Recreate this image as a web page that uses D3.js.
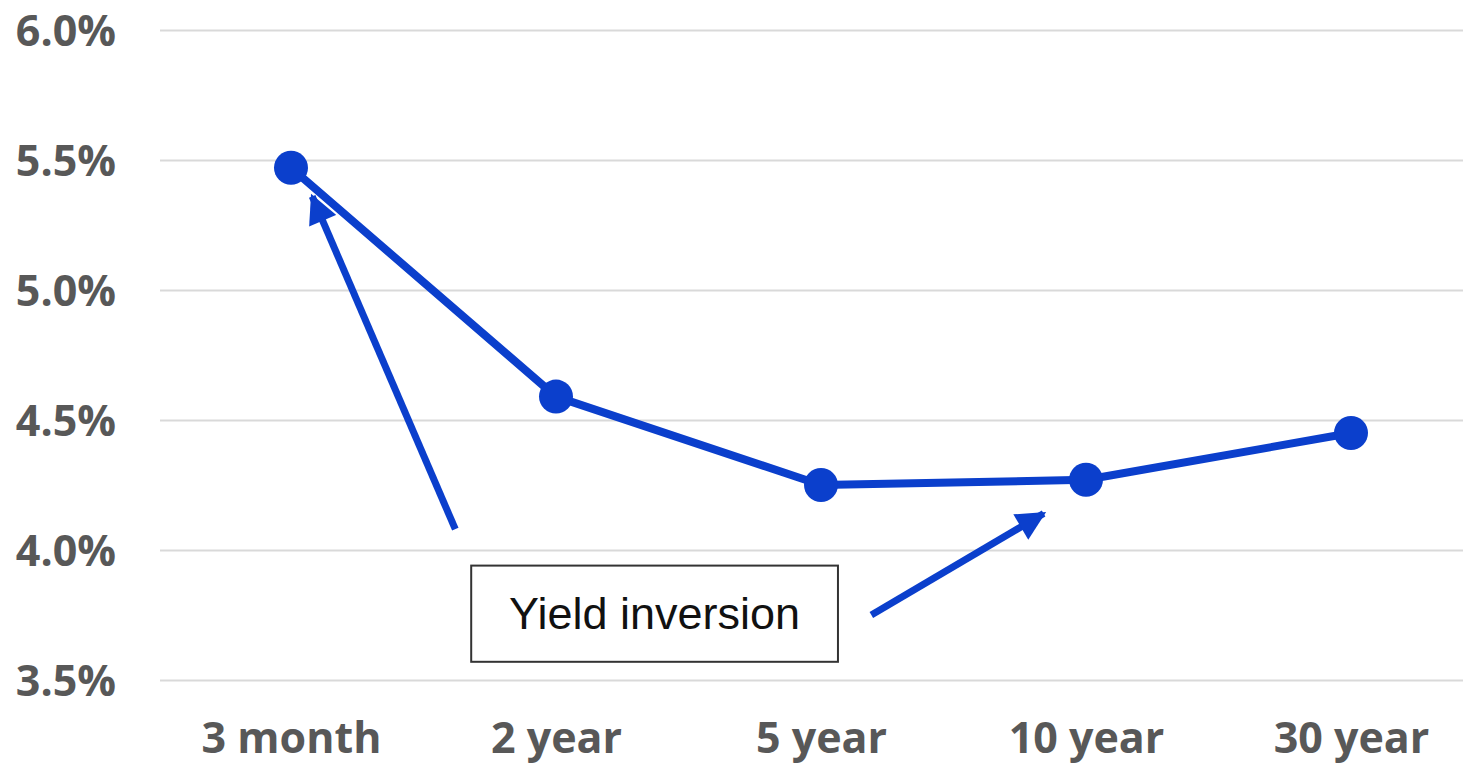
<!DOCTYPE html>
<html>
<head>
<meta charset="utf-8">
<script src="https://cdn.jsdelivr.net/npm/d3@7"></script>
<style>
  html, body { margin: 0; padding: 0; background: #fff; }
  svg { display: block; }
</style>
</head>
<body>
<svg id="chart" width="1463" height="767"></svg>
<script>
// ---- data ----
const categories = ["3 month", "2 year", "5 year", "10 year", "30 year"];
const yields = [5.47, 4.59, 4.25, 4.27, 4.45];
const yTicks = [3.5, 4.0, 4.5, 5.0, 5.5, 6.0];
const annotationText = "Yield inversion";
// annotation arrows in data space: [categoryIndex (fractional), yield]
const arrowTails = [[0.62, 4.08], [2.19, 3.75]];
const arrowTips  = [[0.08, 5.36], [2.84, 4.14]];
const boxCorners = [[0.68, 3.94], [2.064, 3.57]];

// ---- layout ----
const W = 1463, H = 767;
const blue = "#0b3fcc";
const svg = d3.select("#chart");

const x = d3.scalePoint().domain(categories).range([158.5, 1483.5]).padding(0.5);
const xi = d3.scaleLinear().domain([0, categories.length - 1])
  .range([x(categories[0]), x(categories[categories.length - 1])]);
const y = d3.scaleLinear().domain([3.5, 6.0]).range([680, 30]);

// gridlines + y labels
const yAxis = d3.axisLeft(y).tickValues(yTicks).tickFormat(d3.format(".1f"))
  .tickSize(-(W - 160)).tickPadding(44);
const gy = svg.append("g").attr("transform", "translate(160,0)").call(yAxis);
gy.select(".domain").remove();
gy.selectAll(".tick line").attr("stroke", "#d9d9d9").attr("stroke-width", 2);
gy.selectAll(".tick text")
  .text(d => d3.format(".1f")(d) + "%")
  .attr("fill", "#585858")
  .attr("font-family", "'Open Sans', sans-serif")
  .attr("font-weight", 700)
  .attr("font-size", 43)
  .attr("dy", "0.35em");

// x labels
const xAxis = d3.axisBottom(x).tickSize(0).tickPadding(0);
const gx = svg.append("g").attr("transform", "translate(0,680)").call(xAxis);
gx.select(".domain").remove();
gx.selectAll(".tick text")
  .attr("fill", "#585858")
  .attr("font-family", "'Open Sans', sans-serif")
  .attr("font-weight", 700)
  .attr("font-size", 43)
  .attr("y", 73)
  .attr("dy", 0);

// line
const line = d3.line().x((d, i) => x(categories[i])).y(d => y(d));
svg.append("path").datum(yields)
  .attr("d", line).attr("fill", "none")
  .attr("stroke", blue).attr("stroke-width", 8).attr("stroke-linejoin", "round");

svg.selectAll("circle.pt").data(yields).join("circle")
  .attr("class", "pt")
  .attr("cx", (d, i) => x(categories[i]))
  .attr("cy", d => y(d))
  .attr("r", 17)
  .attr("fill", blue);

// annotation box
const bx0 = xi(boxCorners[0][0]), by0 = y(boxCorners[0][1]);
const bx1 = xi(boxCorners[1][0]), by1 = y(boxCorners[1][1]);
svg.append("rect")
  .attr("x", bx0).attr("y", by0)
  .attr("width", bx1 - bx0).attr("height", by1 - by0)
  .attr("fill", "#fff").attr("stroke", "#333").attr("stroke-width", 2);
svg.append("text")
  .attr("x", (bx0 + bx1) / 2).attr("y", (by0 + by1) / 2)
  .attr("dy", "0.35em")
  .attr("text-anchor", "middle")
  .attr("font-family", "'Liberation Sans', Arial, sans-serif")
  .attr("font-size", 45)
  .attr("fill", "#111")
  .text(annotationText);

// arrows
const defs = svg.append("defs");
defs.append("marker")
  .attr("id", "arrowhead")
  .attr("viewBox", "0 0 10 10")
  .attr("refX", 9).attr("refY", 5)
  .attr("markerWidth", 4.6).attr("markerHeight", 4.2)
  .attr("markerUnits", "strokeWidth")
  .attr("orient", "auto")
  .append("path").attr("d", "M0,0 L10,5 L0,10 Z").attr("fill", blue);

arrowTails.forEach((t, k) => {
  const tip = arrowTips[k];
  const x1 = xi(t[0]), y1 = y(t[1]);
  const x2 = xi(tip[0]), y2 = y(tip[1]);
  svg.append("line")
    .attr("x1", x1).attr("y1", y1).attr("x2", x2).attr("y2", y2)
    .attr("stroke", blue).attr("stroke-width", 7)
    .attr("marker-end", "url(#arrowhead)");
});
</script>
</body>
</html>
